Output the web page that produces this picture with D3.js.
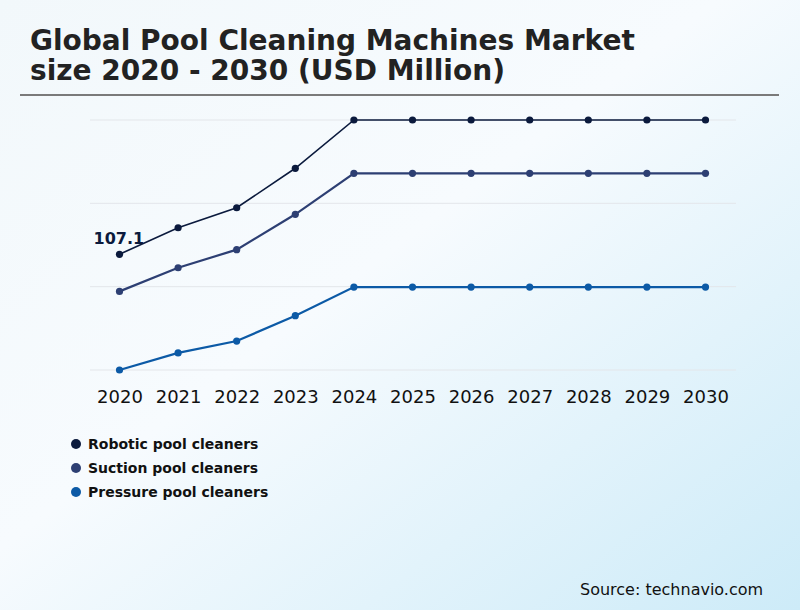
<!DOCTYPE html>
<html>
<head>
<meta charset="utf-8">
<script src="https://cdn.jsdelivr.net/npm/d3@7"></script>
<style>
  body { margin: 0; }
  svg { display: block; font-family: "DejaVu Sans", sans-serif; }
</style>
</head>
<body>
<svg id="chart" width="800" height="610"></svg>
<script>
// chart data
const years = ["2020", "2021", "2022", "2023", "2024", "2025", "2026", "2027", "2028", "2029", "2030"];
const robotic = [107.1, 122.5, 134.1, 157.0, 185.0, 185.0, 185.0, 185.0, 185.0, 185.0, 185.0];
const suction = [85.6, 99.3, 109.8, 130.3, 154.1, 154.1, 154.1, 154.1, 154.1, 154.1, 154.1];
const pressure = [40.0, 49.9, 56.8, 71.5, 88.1, 88.1, 88.1, 88.1, 88.1, 88.1, 88.1];
const seriesNames = ["Robotic pool cleaners", "Suction pool cleaners", "Pressure pool cleaners"];
const gridValues = [40, 88.33, 136.67, 185];

const width = 800;
const height = 610;

const colors = ["#0b1a3d", "#2d3f73", "#0c5aa6"];
const strokeW = [1.6, 2.2, 2.2];

const series = [robotic, suction, pressure];

const svg = d3.select("#chart");

// background gradient
const defs = svg.append("defs");
const grad = defs.append("linearGradient")
                .attr("id", "bg")
                .attr("x1", "0").attr("y1", "0")
                .attr("x2", "1").attr("y2", "1");
grad.append("stop").attr("offset", "0%").attr("stop-color", "#f2f8fb");
grad.append("stop").attr("offset", "45%").attr("stop-color", "#f7fbfe");
grad.append("stop").attr("offset", "100%").attr("stop-color", "#cdebf8");

svg.append("rect")
    .attr("width", width)
    .attr("height", height)
    .attr("fill", "url(#bg)");

// title
svg.append("text")
    .attr("x", 30)
    .attr("y", 50)
    .attr("font-size", 28)
    .attr("font-weight", "bold")
    .attr("fill", "#222")
    .text("Global Pool Cleaning Machines Market");

svg.append("text")
    .attr("x", 30)
    .attr("y", 80)
    .attr("font-size", 28)
    .attr("font-weight", "bold")
    .attr("fill", "#222")
    .text("size 2020 - 2030 (USD Million)");

svg.append("line")
    .attr("x1", 20).attr("x2", 779)
    .attr("y1", 95).attr("y2", 95)
    .attr("stroke", "#7a7a7a")
    .attr("stroke-width", 2);

// scales
const xScale = d3.scalePoint()
                .domain(years)
                .range([119.5, 705.5]);

const yScale = d3.scaleLinear()
                .domain([40, 185])
                .range([370, 120]);

// gridlines
svg.append("g")
    .selectAll("line")
    .data(gridValues)
    .join("line")
    .attr("x1", 90)
    .attr("x2", 736)
    .attr("y1", d => yScale(d))
    .attr("y2", d => yScale(d))
    .attr("stroke", "#e3e6ea")
    .attr("stroke-width", 1);

// x axis labels
const bottomAxis = d3.axisBottom(xScale).tickSize(0).tickPadding(0);
const xAxis = svg.append("g")
                .attr("transform", "translate(0,390)")
                .call(bottomAxis);
xAxis.select(".domain").remove();
xAxis.selectAll("text")
    .attr("font-size", 18)
    .attr("font-family", "'DejaVu Sans', sans-serif")
    .attr("fill", "#111");

// lines + points
const line = d3.line()
                .x((d, i) => xScale(years[i]))
                .y(d => yScale(d));

series.forEach((s, k) => {
    svg.append("path")
        .datum(s)
        .attr("d", line)
        .attr("fill", "none")
        .attr("stroke", colors[k])
        .attr("stroke-width", strokeW[k]);

    svg.append("g")
        .selectAll("circle")
        .data(s)
        .join("circle")
        .attr("cx", (d, i) => xScale(years[i]))
        .attr("cy", d => yScale(d))
        .attr("r", 3.6)
        .attr("fill", colors[k]);
});

// first value label
svg.append("text")
    .attr("x", xScale(years[0]) - 26)
    .attr("y", yScale(robotic[0]) - 10)
    .attr("font-size", 16)
    .attr("font-weight", "bold")
    .attr("fill", colors[0])
    .text(robotic[0]);

// legend
const legend = svg.append("g")
                .selectAll("g")
                .data(seriesNames)
                .join("g")
                .attr("transform", (d, i) => "translate(76," + (444 + i * 24) + ")");

legend.append("circle")
    .attr("r", 5)
    .attr("fill", (d, i) => colors[i]);

legend.append("text")
    .attr("x", 12)
    .attr("y", 5)
    .attr("font-size", 14)
    .attr("font-weight", "bold")
    .attr("fill", "#111")
    .text(d => d);

// source
svg.append("text")
    .attr("x", 580)
    .attr("y", 595)
    .attr("font-size", 16)
    .attr("fill", "#111")
    .text("Source: technavio.com");
</script>
</body>
</html>
